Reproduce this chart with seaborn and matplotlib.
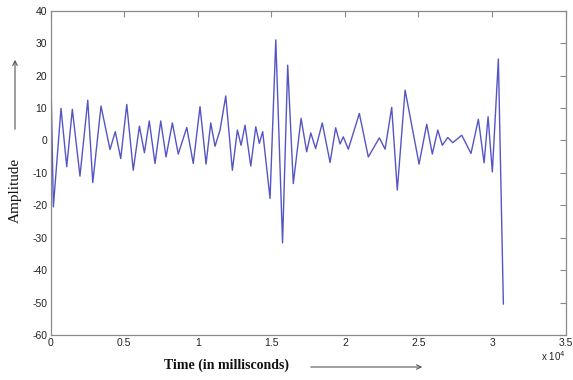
import matplotlib
matplotlib.use("Agg")
import matplotlib.pyplot as plt
import seaborn as sns
import pandas as pd
from matplotlib.ticker import FuncFormatter

# Data (time in ms, amplitude)
time_ms = [0, 180, 700, 1090, 1470, 1990, 2520, 2860, 3420, 4030, 4390, 4760,
           5170, 5610, 6030, 6370, 6700, 7090, 7480, 7840, 8270, 8670, 9250,
           9690, 10150, 10560, 10880, 11170, 11510, 11900, 12350, 12690, 12940,
           13210, 13600, 13940, 14180, 14410, 14910, 15300, 15760, 16110, 16490,
           17020, 17400, 17680, 18010, 18460, 18990, 19370, 19670, 19890, 20230,
           20980, 21590, 22340, 22730, 23180, 23560, 24090, 25040, 25560, 25940,
           26310, 26620, 26990, 27330, 27940, 28570, 29070, 29460, 29730, 30020,
           30430, 30770]
amplitude = [23, -20.5, 9.9, -8.1, 9.6, -11, 12.4, -13, 10.6, -2.8, 2.7, -5.6,
             11.1, -9.2, 4.4, -3.8, 6.0, -7.1, 6.0, -5.1, 5.4, -4.2, 4.0,
             -7.1, 10.4, -7.3, 5.4, -1.8, 3.2, 13.7, -9.2, 3.2, -1.5,
             4.7, -7.9, 4.2, -0.9, 2.7, -17.9, 31, -31.6, 23.2, -13.3,
             6.8, -3.5, 2.3, -2.5, 5.4, -6.8, 3.9, -1.1, 1.1, -2.7,
             8.3, -5.1, 0.8, -2.7, 10.2, -15.3, 15.5, -7.3, 5.0, -4.2,
             3.2, -1.5, 0.9, -0.7, 1.6, -4.0, 6.5, -6.9, 7.3, -9.7,
             25.1, -50.5]

x_ticks = [0, 5000, 10000, 15000, 20000, 25000, 30000, 35000]
y_ticks = [40, 30, 20, 10, 0, -10, -20, -30, -40, -50, -60]

df = pd.DataFrame({"time": time_ms, "amp": amplitude})

sns.set_style("white")
plt.rcParams["axes.unicode_minus"] = False
W, H = 573, 380
fig = plt.figure(figsize=(W / 100, H / 100), dpi=100)
ax = fig.add_axes([50.7 / W, 1 - 335 / H, (565.6 - 50.7) / W, (335 - 10.7) / H])

sns.lineplot(data=df, x="time", y="amp", ax=ax, sort=False, estimator=None,
             color="#5555c4", linewidth=1.0)

ax.set_xlim(0, 35000)
ax.set_ylim(-60, 40)
ax.set_xticks(x_ticks)
ax.set_yticks(y_ticks)
ax.xaxis.set_major_formatter(FuncFormatter(lambda v, p: f"{v/1e4:g}"))
ax.set_xlabel("")
ax.set_ylabel("")

for s in ax.spines.values():
    s.set_color("#8a8a8a")
    s.set_linewidth(0.9)
    s.set_visible(True)

ax.tick_params(axis="both", direction="in", length=4, width=0.8, color="#8a8a8a",
               top=True, right=True, labelsize=7.5, labelcolor="#222222", pad=2.5)
for lab in ax.get_xticklabels() + ax.get_yticklabels():
    lab.set_fontfamily("Liberation Sans")

# exponent text
fig.text(541 / W, 1 - 356 / H, r"x 10$^{4}$", fontsize=7, color="#222222",
         family="Liberation Sans", va="center", ha="left")

# x label with arrow
fig.text(227 / W, 1 - 365 / H, "Time (in millisconds)", fontsize=10,
         fontweight="bold", family="Liberation Serif", ha="center", va="center",
         color="#111111")
fig.add_artist(matplotlib.patches.FancyArrowPatch(
    (308 / W, 1 - 367 / H), (425 / W, 1 - 367 / H), transform=fig.transFigure,
    arrowstyle="->", mutation_scale=8, color="#555555", linewidth=0.8))

# y label with arrow
fig.text(15 / W, 1 - 190 / H, "Amplitude", fontsize=11, rotation=90,
         family="Liberation Serif", ha="center", va="center", color="#111111")
fig.add_artist(matplotlib.patches.FancyArrowPatch(
    (15 / W, 1 - 132 / H), (15 / W, 1 - 57 / H), transform=fig.transFigure,
    arrowstyle="->", mutation_scale=8, color="#555555", linewidth=0.8))

fig.savefig("out.png", dpi=100)
